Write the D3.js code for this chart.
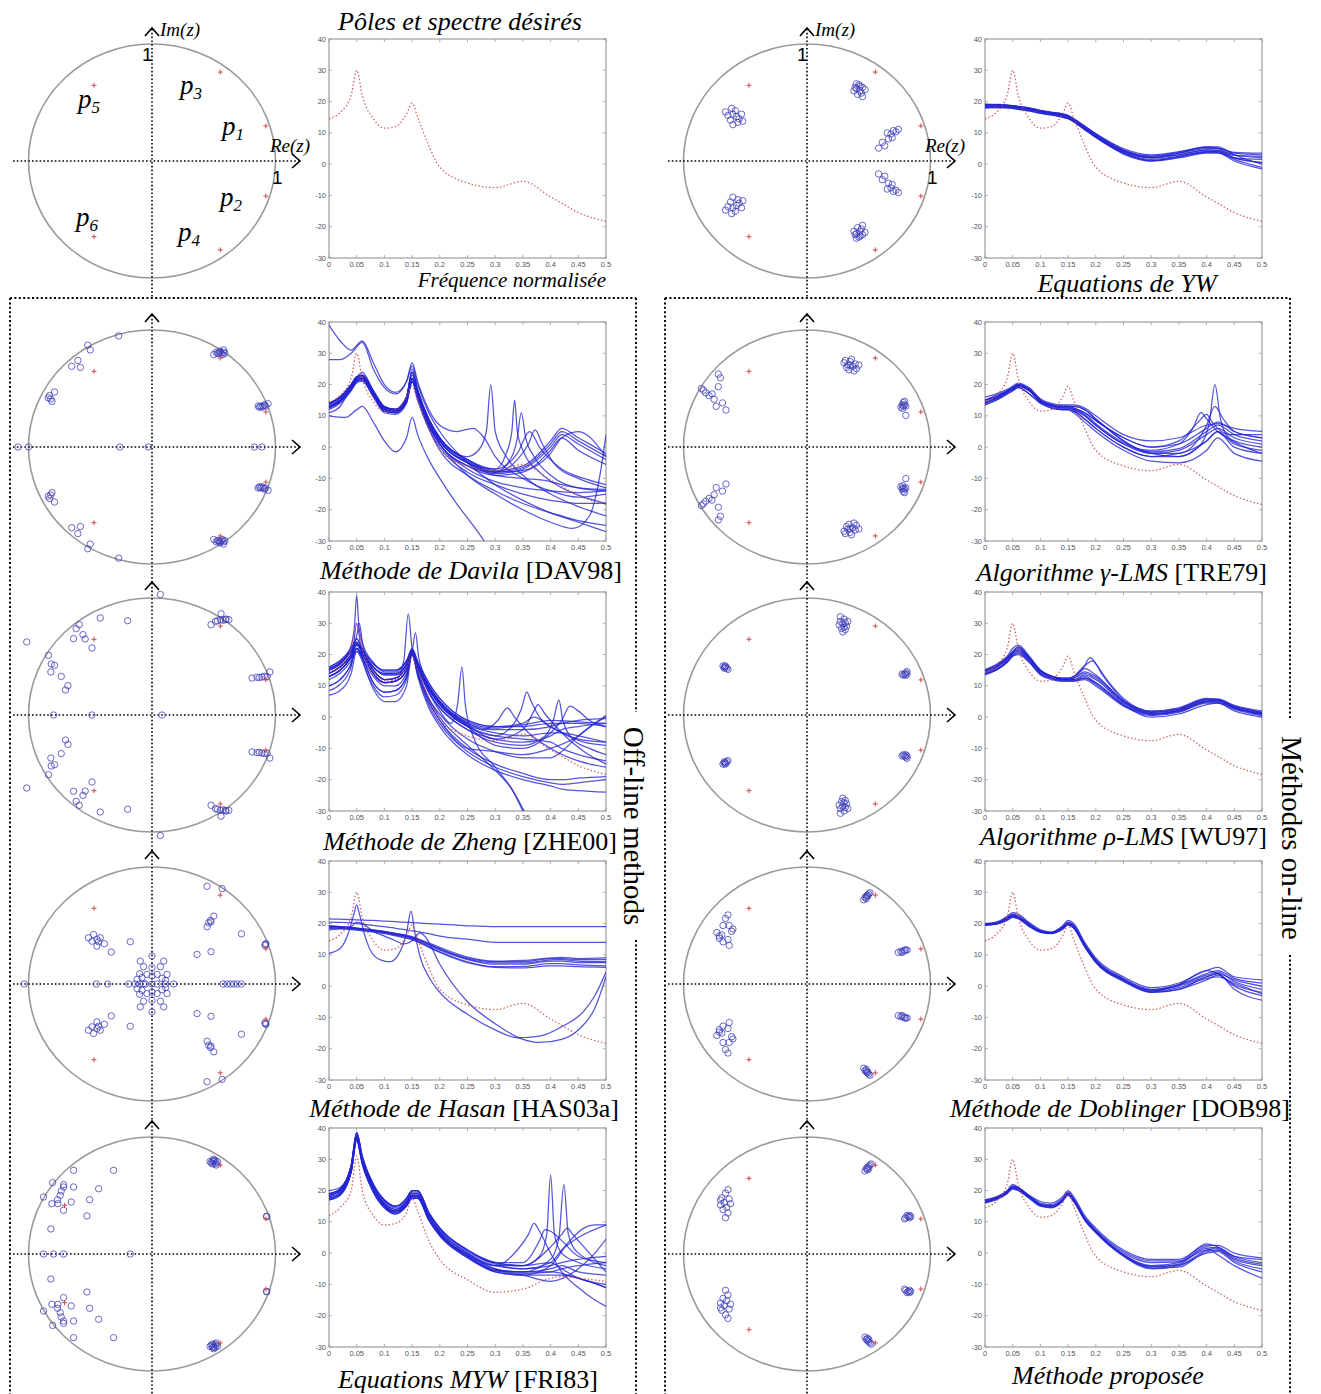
<!DOCTYPE html>
<html>
<head>
<meta charset="utf-8">
<script src="https://cdn.jsdelivr.net/npm/d3@7"></script>
<style>
  body { margin: 0; background: #fff; }
  svg { display: block; }
</style>
</head>
<body>
<svg id="fig" width="1321" height="1394"></svg>
<script>
// ---------------------------------------------------------------
// Data
// ---------------------------------------------------------------

// Frequency grid shared by most spectra (normalised frequency)
const FREQ = [0, 0.02, 0.04, 0.05, 0.06, 0.08, 0.10, 0.12, 0.14, 0.15, 0.16, 0.18, 0.20, 0.25, 0.30, 0.35, 0.40, 0.42, 0.45, 0.50];
const FREQ_TICKS = [0, 0.05, 0.1, 0.15, 0.2, 0.25, 0.3, 0.35, 0.4, 0.45, 0.5];
const DB_TICKS = [40, 30, 20, 10, 0, -10, -20, -30];

// Desired spectra (dB)
const DESIRED = [14.5, 16.5, 22, 30, 22, 14.5, 11.5, 12, 16, 19.5, 15, 6, -1, -6, -7.5, -5.5, -10.5, -12.5, -15.5, -18.3];
const DESIRED_MYW = [12, 14.5, 20, 31, 20, 12, 9, 9.5, 13, 17.5, 13.5, 4, -2, -8.5, -12.5, -11.5, -8, -7.5, -8, -9];

// Desired poles (upper half plane; conjugates drawn too)
const DESIRED_POLES = [[0.922, 0.300], [0.553, 0.760], [-0.470, 0.647]];
const DESIRED_POLES_MYW = [[0.922, 0.300], [0.553, 0.760], [-0.708, 0.416]];
const POLE_NAMES = [["1", "2"], ["3", "4"], ["5", "6"]];

// --- Equations de YW ---
const YW1 = [18.5, 18.5, 18.5, 18.3, 18, 17.5, 16.8, 16.2, 15.5, 15, 14, 11.5, 9, 4, 2, 3, 4.5, 4.5, 3, 2];
const YW2 = [19, 19, 18.8, 18.6, 18.3, 17.8, 17, 16.5, 16, 15.5, 14.5, 12, 9.5, 4.5, 2.5, 3.5, 5, 5, 3.5, 3];
const YW3 = [18, 18, 18, 17.8, 17.5, 17, 16.3, 15.8, 15, 14.5, 13.5, 11, 8.5, 3.5, 1, 2, 3.5, 3.5, 2, 1.5];
const YW4 = [18.5, 18.6, 18.4, 18.2, 18, 17.4, 16.6, 16, 15.3, 14.8, 13.8, 11.3, 8.8, 3.8, 1.5, 2.5, 4, 4, 1.5, -1];
const YW5 = [19, 19, 18.8, 18.6, 18.4, 17.8, 17, 16.4, 15.8, 15.2, 14.2, 11.8, 9.3, 4.3, 2, 3.5, 5.5, 5.5, 3, 0];
const YW6 = [18, 18.2, 18, 17.8, 17.5, 17, 16.2, 15.7, 15, 14.5, 13.6, 11, 8.7, 3.2, 1, 2.5, 4, 4, 2, 0.5];
const YW7 = [18.8, 18.8, 18.6, 18.4, 18.2, 17.6, 16.9, 16.3, 15.6, 15.1, 14.1, 11.6, 9.1, 4.2, 2.2, 3, 4.6, 4.3, 2.8, 2.5];
const YW8 = [19.2, 19.1, 18.9, 18.7, 18.5, 18, 17.2, 16.6, 16.1, 15.6, 14.6, 12.2, 9.8, 5, 3, 4, 5.5, 5.2, 3.8, 3.5];
const YW9 = [18.2, 18.3, 18.2, 18, 17.8, 17.2, 16.4, 15.9, 15.2, 14.7, 13.7, 11.2, 8.6, 3.6, 1.2, 2.2, 3.8, 3.7, 1, -1.5];
const YW10 = [19.1, 19, 18.9, 18.7, 18.4, 17.9, 17.1, 16.5, 15.9, 15.4, 14.4, 12, 9.6, 4.6, 2.6, 3.8, 5.3, 5, 2, 0.5];
const SPEC_YW = [YW1, YW2, YW3, YW4, YW5, YW6, YW7, YW8, YW9, YW10];
const POLES_YW = [
  [0.40, 0.62], [0.43, 0.60], [0.45, 0.63], [0.42, 0.65], [0.38, 0.60], [0.44, 0.58], [0.41, 0.57], [0.47, 0.61], [0.43, 0.64], [0.40, 0.66], [0.45, 0.55], [0.39, 0.63],
  [0.70, 0.26], [0.68, 0.23], [0.72, 0.25], [0.66, 0.19], [0.63, 0.13], [0.58, 0.11], [0.61, 0.16], [0.69, 0.20], [0.74, 0.27], [0.65, 0.24],
  [-0.60, 0.40], [-0.57, 0.38], [-0.55, 0.36], [-0.62, 0.35], [-0.58, 0.43], [-0.53, 0.40], [-0.64, 0.39], [-0.56, 0.33], [-0.60, 0.31], [-0.52, 0.34], [-0.61, 0.45], [-0.66, 0.42]
];

// --- Méthode de Davila ---
const DV1 = [13, 15, 19, 21.5, 22, 17, 12, 11.5, 15, 22, 17, 8, 2, -5, -8.5, -7, 0, 4, 1, -4];
const DV2 = [14, 16, 20, 22.5, 23, 18, 13, 12, 16, 24, 18, 9, 3, -4, -8, -6.5, 1, 5, 2, -3];
const DV3 = [12.5, 14.5, 18.5, 21, 21.5, 16.5, 11.5, 11, 14.5, 21, 16, 7, 1, -6, -9, -8, -1, 3, -1, -5.5];
const DV4 = [13.5, 15.5, 19.5, 22, 22.5, 17.5, 12.5, 11.8, 15.5, 23, 17.5, 8.5, 2.5, -4.5, -8, -7.5, -2, 3, 5, -3];
const DV5 = [13, 15, 19, 21.5, 22, 17, 12, 11.5, 15, 22, 17, 8, 2, -5, -9, -10, -11, -12, -13, -13.5];
const DV6 = [12, 14, 18, 20.5, 21, 16, 11, 10.5, 14, 21, 15, 6, 0, -8, -12, -15, -17, -17.5, -18, -18];
const DV7 = [14, 16, 20, 22, 22.5, 17.5, 12.5, 12, 15.5, 22, 16, 6, -1, -9, -14, -18, -21, -22, -23.5, -25];
const DV8 = [13.8, 15.8, 19.8, 22.2, 22.8, 17.8, 12.8, 12.2, 16, 25, 18.5, 9, 3, -4, -7.5, -6, 2, 6, 3, -2];
const SPEC_DAVILA = [
  DV1, DV2, DV3, DV4, DV5, DV6, DV7, DV8,
  [[0, 39], [0.02, 34], [0.04, 31], [0.06, 34], [0.08, 27], [0.1, 20], [0.12, 17.5], [0.14, 21], [0.15, 26], [0.16, 20], [0.18, 11], [0.2, 5], [0.25, -5], [0.3, -12], [0.35, -17], [0.4, -21], [0.45, -24], [0.5, -27]],
  [[0, 28], [0.02, 28], [0.04, 30], [0.06, 33.5], [0.08, 25], [0.1, 19], [0.12, 17], [0.14, 21], [0.15, 27], [0.16, 21], [0.18, 12], [0.2, 7], [0.23, 5], [0.26, 6], [0.28, 3], [0.3, -3], [0.35, -10], [0.4, -14], [0.45, -16], [0.5, -15]],
  [[0, 10], [0.03, 9.5], [0.05, 12], [0.06, 13], [0.08, 8], [0.1, 2], [0.12, -1.5], [0.14, 3], [0.15, 9.5], [0.16, 4], [0.18, -4], [0.2, -10], [0.23, -18], [0.26, -25], [0.28, -30], [0.29, -33]],
  [[0, 11], [0.02, 13], [0.04, 19], [0.06, 24], [0.08, 18], [0.1, 12.5], [0.12, 12], [0.14, 16], [0.15, 22], [0.16, 16], [0.18, 7], [0.2, 1], [0.25, -7], [0.3, -11], [0.35, -13], [0.4, -14], [0.45, -14.5], [0.5, -14]],
  { on: DV2, then: [[0.25, -3], [0.27, -1], [0.284, 5], [0.292, 20], [0.3, 5], [0.32, -3], [0.35, -9], [0.4, -15], [0.45, -19], [0.5, -22]] },
  { on: DV1, then: [[0.3, -7], [0.32, -2], [0.33, 5], [0.335, 15], [0.34, 5], [0.35, -1], [0.38, -8], [0.42, -13], [0.46, -16], [0.5, -18]] },
  { on: DV3, then: [[0.3, -8], [0.33, -3], [0.34, 3], [0.347, 11], [0.355, 3], [0.37, -3], [0.4, -9], [0.45, -13], [0.5, -14]] },
  { on: DV1, then: [[0.3, -8], [0.34, -4], [0.36, 1], [0.372, 5.5], [0.385, 1], [0.41, -6], [0.45, -10], [0.5, -13]] },
  { on: DV3, then: [[0.25, -9], [0.3, -15], [0.35, -20], [0.4, -24], [0.44, -26], [0.47, -22], [0.49, -8], [0.5, 4]] },
  { on: DV2, then: [[0.3, -7], [0.34, -2], [0.362, 5], [0.38, 0], [0.42, -7], [0.46, -10], [0.5, -12]] }
];
const POLES_DAVILA = [
  [0.52, 0.81], [0.54, 0.80], [0.56, 0.80], [0.58, 0.81], [0.55, 0.81], [0.57, 0.79], [0.53, 0.80], [0.59, 0.80], [0.55, 0.82], [0.58, 0.83], [0.50, 0.79],
  [0.86, 0.35], [0.88, 0.35], [0.90, 0.35], [0.92, 0.35], [0.89, 0.34], [0.91, 0.36], [0.94, 0.37], [0.87, 0.34],
  [-0.83, 0.44], [-0.81, 0.39], [-0.84, 0.42], [-0.79, 0.47], [-0.82, 0.41],
  [-0.65, 0.69], [-0.60, 0.74], [-0.58, 0.68], [-0.50, 0.83], [-0.52, 0.87], [-0.27, 0.95],
  [-1.085, 0], [-1.0, 0], [-0.26, 0], [-0.03, 0], [0.83, 0], [0.89, 0]
];

// --- Méthode de Zheng ---
const ZB1 = [15, 17, 21, 24, 21, 16, 14, 14, 17, 21, 17, 10, 5, -2, -4, -4, -3, -2, -1, -0.5];
const ZB2 = [13, 15, 19, 22, 20, 14, 11, 11.5, 15, 20.5, 16, 8, 3, -4, -7, -8, -6, -4, -3, -2];
const ZB3 = [16, 18, 22, 25, 22, 17, 15, 15, 18, 22, 18, 11, 6, -1, -3, -3, -2, -2, -2, -3];
const ZB4 = [10, 12, 17, 22, 19, 11, 8, 8.5, 13, 20, 14, 5, -1, -10, -15, -18, -20, -20, -19.5, -19];
const ZB5 = [7, 8.5, 14, 21, 18, 9, 5, 5, 10, 20, 13, 3, -3, -12, -17, -20, -22, -23, -23.5, -24];
const ZB6 = [14, 16, 20, 23, 21, 15, 12, 12.5, 16, 21, 16.5, 9, 4, -3, -6, -7, -8, -10, -12, -14];
const ZB7 = [12, 14, 18, 21, 19, 13, 10, 10, 14, 20, 15, 6, 1, -7, -11, -13, -13, -11, -6, 0.5];
const ZB8 = [15.5, 17.5, 21, 23.5, 21, 16, 13.5, 13.5, 17, 21.5, 17, 9.5, 4.5, -2.5, -5, -6, -5, -5, -6, -8];
const ZB9 = [8.5, 10.5, 16, 30, 19, 10, 6.5, 7, 12, 22, 14, 4, -2, -11, -16, -19, -21, -21.5, -21, -20];
const SPEC_ZHENG = [
  ZB1, ZB2, ZB3, ZB4, ZB5, ZB6, ZB7, ZB8, ZB9,
  [[0, 15], [0.02, 17], [0.04, 23], [0.046, 29], [0.05, 39], [0.054, 29], [0.06, 24], [0.08, 17.5], [0.1, 14.5], [0.12, 14.5], [0.14, 18], [0.15, 21.5], [0.16, 17.5], [0.18, 10], [0.2, 5], [0.25, -1.5], [0.3, -3.5], [0.35, -2.5], [0.4, -1], [0.45, -1.5], [0.5, -2]],
  [[0, 13], [0.02, 15], [0.04, 20], [0.05, 26], [0.055, 30], [0.06, 24], [0.08, 14], [0.1, 11], [0.12, 11.5], [0.135, 18], [0.143, 33], [0.15, 22], [0.16, 15], [0.18, 6], [0.2, 0], [0.25, -9], [0.3, -17], [0.33, -23], [0.355, -31]],
  { on: ZB3, then: [[0.15, 21], [0.156, 27], [0.162, 19], [0.18, 11], [0.2, 6], [0.25, -1], [0.3, -3], [0.35, -2], [0.37, 0], [0.4, -3], [0.45, -7], [0.5, -8]] },
  { on: ZB2, then: [[0.2, 2], [0.22, -2], [0.232, 4], [0.24, 16], [0.246, 4], [0.26, -6], [0.3, -16], [0.33, -23], [0.35, -30]] },
  { on: ZB6, then: [[0.3, -6], [0.33, -3], [0.348, 3], [0.357, 8], [0.365, 5], [0.38, 0], [0.42, -5], [0.46, -8], [0.5, -9]] },
  { on: ZB8, then: [[0.3, -7], [0.35, -4], [0.37, 2], [0.377, 4], [0.39, 1], [0.42, -5], [0.46, -11], [0.5, -15]] },
  { on: ZB2, then: [[0.3, -8], [0.35, -9], [0.39, -6], [0.405, -1], [0.415, 5.5], [0.422, -1], [0.44, -7], [0.47, -10], [0.5, -12]] },
  { on: ZB6, then: [[0.3, -9], [0.35, -10], [0.4, -5], [0.42, -1], [0.435, 3.5], [0.45, 2], [0.47, -1], [0.5, -3]] },
  { on: ZB1, then: [[0.25, -2], [0.28, -4], [0.305, -1], [0.322, 3], [0.335, 0], [0.36, -5], [0.4, -10], [0.45, -14], [0.5, -16]] },
  { on: ZB4, then: [[0.3, -11], [0.35, -12], [0.4, -10], [0.45, -6], [0.48, -2], [0.5, 0]] }
];
const POLES_ZHENG = [
  [0.478, 0.772], [0.514, 0.80], [0.554, 0.815], [0.595, 0.815], [0.622, 0.815], [0.559, 0.865], [0.53, 0.805], [0.575, 0.81], [0.60, 0.82],
  [0.81, 0.316], [0.85, 0.322], [0.89, 0.325], [0.932, 0.328], [0.954, 0.368], [0.87, 0.32], [0.91, 0.33],
  [0.068, 1.03],
  [-0.589, 0.772], [-0.614, 0.738], [-0.559, 0.687], [-0.635, 0.652], [-0.541, 0.65], [-0.486, 0.573], [-0.419, 0.829], [-0.197, 0.806],
  [-1.014, 0.624], [-0.838, 0.51], [-0.816, 0.436], [-0.789, 0.425], [-0.819, 0.368], [-0.735, 0.33], [-0.681, 0.251], [-0.70, 0.214],
  [-0.797, 0], [-0.486, 0], [0.081, 0]
];

// --- Méthode de Hasan ---
const HF1 = [21.5, 21.4, 21.3, 21.2, 21.1, 21, 20.8, 20.6, 20.4, 20.3, 20.2, 20, 19.8, 19.3, 19, 19, 19, 19, 19, 19];
const HF2 = [20.5, 20.4, 20.2, 20, 19.8, 19.4, 19, 18.5, 18, 17.7, 17.4, 16.8, 16, 15, 14, 14, 14, 14, 14, 14];
const HB1 = [19, 18.8, 18.5, 18.3, 18.1, 17.7, 17.2, 16.5, 15.8, 15.3, 14.6, 13, 11.5, 8.5, 7, 7, 8, 8, 7.5, 7.5];
const HB2 = [19.3, 19, 18.7, 18.5, 18.3, 17.9, 17.4, 16.8, 16.1, 15.6, 15, 13.5, 12, 9, 7.8, 7.8, 8.8, 8.8, 8.5, 8.5];
const HB3 = [18.8, 18.6, 18.3, 18.1, 17.9, 17.5, 17, 16.3, 15.5, 15, 14.3, 12.6, 11, 7.8, 6.2, 6.3, 7.2, 7.2, 6.8, 6.5];
const HB4 = [19.1, 18.9, 18.6, 18.4, 18.2, 17.8, 17.3, 16.6, 16, 15.5, 14.8, 13.3, 11.8, 8.7, 7.4, 7.4, 8.4, 8.5, 8, 7.8];
const HB5 = [18.5, 18.3, 18.1, 17.9, 17.7, 17.3, 16.8, 16.1, 15.3, 14.8, 14.1, 12.4, 10.8, 7.5, 6, 5.8, 6.5, 6.5, 6.2, 6];
const HB6 = [19.2, 19, 18.8, 18.6, 18.4, 18, 17.5, 16.9, 16.3, 15.8, 15.2, 13.8, 12.4, 9.3, 8, 8.2, 9, 9.2, 8.8, 9];
const SPEC_HASAN = [
  HF1, HF2, HB1, HB2, HB3, HB4, HB5, HB6,
  [[0, 10.5], [0.02, 12], [0.035, 17], [0.045, 23], [0.05, 26], [0.055, 23], [0.065, 16], [0.08, 10], [0.1, 8], [0.11, 7.8], [0.125, 10], [0.14, 17], [0.148, 24], [0.155, 17], [0.165, 9], [0.18, 3], [0.2, -2], [0.25, -9], [0.3, -14], [0.34, -16.5], [0.38, -16], [0.42, -13], [0.46, -8], [0.48, -3], [0.5, 4.5]],
  [[0, 18], [0.04, 19], [0.05, 20.5], [0.06, 20], [0.08, 17.5], [0.1, 16], [0.12, 14.5], [0.135, 13.5], [0.15, 14.5], [0.165, 17], [0.175, 15.5], [0.2, 7], [0.25, -5], [0.3, -12], [0.35, -17], [0.38, -18], [0.42, -17], [0.45, -14], [0.48, -7], [0.5, 3]]
];
const POLES_HASAN = [
  [0, 0.239], [-0.068, 0.148], [0, 0.139], [0.068, 0.148], [0.095, 0.196], [-0.095, 0.196], [-0.10, 0.088], [-0.041, 0.082], [0.041, 0.082], [0.122, 0.082],
  [0, 0.068], [-0.081, 0.054], [0.081, 0.048], [-0.12, 0.04], [0.11, 0.03],
  [-0.189, 0], [-0.135, 0], [-0.10, 0], [-0.054, 0], [0, 0], [0.041, 0], [0.108, 0], [0.176, 0], [-0.07, 0],
  [-0.514, 0.395], [-0.473, 0.423], [-0.446, 0.381], [-0.432, 0.361], [-0.419, 0.395], [-0.446, 0.324], [-0.486, 0.366], [-0.386, 0.344], [-0.33, 0.273], [-0.176, 0.361],
  [-1.035, 0], [-0.451, 0], [-0.359, 0],
  [0.446, 0.835], [0.568, 0.815], [0.50, 0.58], [0.473, 0.543], [0.446, 0.489], [0.459, 0.523], [0.478, 0.531], [0.365, 0.253], [0.478, 0.276], [0.724, 0.429],
  [0.919, 0.338], [0.915, 0.33], [0.922, 0.345],
  [0.576, 0], [0.608, 0], [0.635, 0], [0.662, 0], [0.689, 0], [0.722, 0]
];

// --- Equations MYW ---
const M1 = [18, 19.5, 27, 37.5, 30, 21, 16, 14, 16.5, 19, 19, 12, 7, 0, -4, -5, -4, -3, -2, -1];
const M2 = [19, 20.5, 28, 38.5, 31, 22, 17, 15, 17.5, 20, 20, 13, 8, 1, -3, -4, -3, -5, -8, -10];
const M3 = [17.5, 19, 26, 36.5, 29, 20, 15, 13, 15.5, 18, 18, 11, 6, -1, -5.5, -6, -5, -4, -6, -7];
const M4 = [20, 21, 28, 38, 30.5, 21.5, 16.5, 14.5, 17, 19.5, 19.5, 12.5, 7.5, 0.5, -3.5, -5, -3, 1, 5, 9];
const M5 = [18.5, 20, 27.5, 37, 30, 21, 15.5, 13.5, 16, 18.5, 18.5, 12, 6.5, -0.5, -5, -6.5, -6, -5, -4, -3];
const M6 = [17, 18.5, 26, 36, 28.5, 19.5, 14.5, 12.5, 15, 17.5, 17.5, 10.5, 5.5, -1.5, -6, -7, -7, -7, -8, -11];
const SPEC_MYW = [
  M1, M2, M3, M4, M5, M6,
  { on: M1, then: [[0.35, -4], [0.38, -1], [0.393, 6], [0.40, 25], [0.407, 6], [0.42, 0], [0.45, -3], [0.5, -5]] },
  { on: M3, then: [[0.35, -6], [0.4, -2], [0.415, 5], [0.424, 22], [0.432, 6], [0.45, 0], [0.5, -4]] },
  { on: M5, then: [[0.3, -4], [0.34, 1], [0.36, 6], [0.37, 9.5], [0.38, 7], [0.4, 0], [0.42, -6], [0.45, -11], [0.48, -15], [0.5, -17]] },
  { on: M2, then: [[0.35, -3], [0.38, 4], [0.39, 7.5], [0.4, 7], [0.42, 4], [0.45, -1], [0.5, -3]] },
  { on: M6, then: [[0.35, -7], [0.4, -4], [0.43, 3], [0.46, 8], [0.48, 9], [0.5, 9]] },
  { on: M3, then: [[0.35, -7], [0.4, -9], [0.45, -5], [0.48, 0], [0.5, 4.5]] },
  { on: M2, then: [[0.35, -4], [0.4, 2], [0.42, 6], [0.43, 8], [0.44, 6], [0.46, 2], [0.5, -6]] },
  { on: M5, then: [[0.35, -6], [0.4, -6], [0.45, -8], [0.5, -11]] }
];
const POLES_MYW = [
  [0.47, 0.79], [0.49, 0.80], [0.50, 0.79], [0.51, 0.80], [0.53, 0.79], [0.49, 0.77], [0.51, 0.77], [0.52, 0.78], [0.48, 0.78], [0.50, 0.81], [0.52, 0.76],
  [0.927, 0.322], [0.93, 0.32],
  [-0.635, 0.715], [-0.311, 0.715], [-0.805, 0.61], [-0.716, 0.593], [-0.716, 0.573], [-0.635, 0.573], [-0.432, 0.558], [-0.735, 0.538], [-0.743, 0.501],
  [-0.765, 0.464], [-0.878, 0.487], [-0.811, 0.43], [-0.762, 0.43], [-0.654, 0.444], [-0.505, 0.464], [-0.716, 0.373], [-0.527, 0.325], [-0.819, 0.214],
  [-0.878, 0], [-0.797, 0], [-0.716, 0], [-0.176, 0]
];

// --- Algorithme gamma-LMS ---
const G1 = [14, 15.5, 17.5, 18.5, 19.5, 18, 14.5, 13, 12.5, 12.5, 12, 10, 7, 1, -2, -1, 4, 6, 3, 1];
const G2 = [15, 16.5, 18, 19, 20, 18.5, 15, 13.5, 13, 13, 12.5, 11, 8.5, 3, 0, 1, 6, 8, 5, 3];
const G3 = [13.5, 15, 17, 18, 19, 17, 14, 12.5, 12, 12, 11.5, 9, 6, 0, -3, -2, 2, 5, 0, -2];
const G4 = [16, 17, 18.5, 19.5, 20.5, 19, 15.5, 14, 13.5, 13.5, 13.5, 12.5, 10, 4, 2, 3, 7, 7.5, 6, 5];
const G5 = [14.5, 15.5, 17.5, 18.5, 19.5, 18, 14.5, 13, 12, 12, 11, 8, 5, -1, -4.5, -5, -1, 3, -2, -4.5];
const G6 = [15, 16, 18, 19, 20, 18.5, 15, 13.5, 13, 13, 13, 12, 9, 2, -2, -3, 2, 5, 1, -1];
const G7 = [14.2, 15.8, 17.8, 18.8, 19.8, 18.2, 14.8, 13.2, 12.6, 12.6, 12.3, 10.5, 7.5, 1.5, -1.5, -0.5, 5, 7, 4, 2];
const SPEC_GLMS = [
  G1, G2, G3, G4, G5, G6, G7,
  { on: G3, then: [[0.35, -3], [0.39, 1], [0.405, 8], [0.415, 20], [0.425, 9], [0.44, 3], [0.47, 0], [0.5, -2]] },
  { on: G1, then: [[0.3, -1], [0.35, 1], [0.375, 6], [0.39, 11], [0.4, 9], [0.42, 5], [0.45, 2], [0.5, 0]] },
  { on: G6, then: [[0.35, -2], [0.4, 7], [0.415, 13], [0.43, 9], [0.45, 5], [0.5, 3]] },
  { on: G2, then: [[0.35, 2], [0.385, 8], [0.4, 10.5], [0.41, 8], [0.44, 4], [0.5, 4]] }
];
const POLES_GLMS = [
  [0.30, 0.72], [0.33, 0.70], [0.35, 0.73], [0.37, 0.69], [0.39, 0.71], [0.34, 0.66], [0.32, 0.68], [0.36, 0.75], [0.40, 0.67], [0.35, 0.70], [0.31, 0.74], [0.38, 0.65], [0.42, 0.70],
  [0.77, 0.36], [0.78, 0.35], [0.79, 0.36], [0.80, 0.35], [0.76, 0.34], [0.78, 0.38], [0.80, 0.27], [0.775, 0.33], [0.79, 0.39],
  [-0.855, 0.5], [-0.82, 0.463], [-0.793, 0.439], [-0.769, 0.454], [-0.752, 0.408], [-0.718, 0.515], [-0.701, 0.592], [-0.718, 0.623], [-0.735, 0.347], [-0.656, 0.316], [-0.684, 0.377], [-0.838, 0.485]
];

// --- Algorithme rho-LMS ---
const R1 = [14, 15.5, 18, 20, 21, 18, 14, 12.5, 12, 12, 12, 13, 11, 4, 1, 2, 5, 5, 3, 1];
const R2 = [13.5, 15, 17.5, 19.5, 20.5, 17.5, 13.5, 12, 11.5, 11.5, 11.5, 12, 10, 3.5, 0.5, 1.5, 4.5, 4.5, 2.5, 0.5];
const R3 = [15, 16.5, 19, 21, 22.5, 19, 15, 13, 12.5, 12.5, 13, 15.5, 13.5, 5, 1.5, 2.5, 5.5, 5.5, 3.5, 1.5];
const R4 = [14.5, 16, 18.5, 20.5, 21.5, 18.5, 14.5, 13, 12, 12, 12, 13.5, 12, 4.5, 1, 2, 5, 5.5, 3, 1.2];
const R5 = [14, 15, 17.5, 19.5, 20, 17.5, 14, 12.5, 11.5, 11.5, 11.5, 12.5, 11, 4, 0, 1, 4, 4.5, 2, 0];
const R6 = [14.8, 16.2, 18.8, 20.8, 22, 18.8, 14.8, 13.2, 12.3, 12.3, 12.5, 14, 12.5, 4.8, 1.2, 2.2, 5.2, 5.2, 3.2, 1.2];
const R7 = [13.8, 15.2, 17.8, 19.8, 20.8, 17.8, 13.8, 12.3, 11.8, 11.8, 11.8, 12.5, 10.5, 3.8, 0.8, 1.8, 4.8, 4.8, 2.8, 0.8];
const R8 = [15.2, 16.8, 19.5, 22, 23, 19.5, 15, 13, 12.2, 12.2, 12.5, 14.5, 13, 5.2, 1.8, 2.8, 5.8, 5.8, 3.8, 2];
const SPEC_RLMS = [
  R1, R2, R3, R4, R5, R6, R7, R8,
  { on: R3, then: [[0.16, 13], [0.175, 15], [0.19, 19], [0.2, 17], [0.22, 12], [0.25, 6], [0.3, 2], [0.35, 3], [0.4, 6], [0.42, 5.5], [0.45, 3.5], [0.5, 1.5]] },
  { on: R4, then: [[0.16, 13], [0.18, 16.5], [0.195, 18], [0.21, 14], [0.25, 5.5], [0.3, 1.5], [0.35, 2.5], [0.4, 5.5], [0.42, 5.5], [0.45, 3], [0.5, 1]] }
];
const POLES_RLMS = [
  [0.27, 0.80], [0.29, 0.78], [0.31, 0.79], [0.30, 0.75], [0.28, 0.74], [0.32, 0.76], [0.26, 0.77], [0.30, 0.82], [0.33, 0.80], [0.29, 0.71], [0.31, 0.73], [0.27, 0.84],
  [0.79, 0.35], [0.80, 0.36], [0.81, 0.35], [0.78, 0.34], [0.80, 0.34], [0.77, 0.35], [0.81, 0.37],
  [-0.67, 0.41], [-0.66, 0.41], [-0.68, 0.42], [-0.65, 0.40], [-0.64, 0.39], [-0.67, 0.40], [-0.66, 0.42]
];

// --- Méthode de Doblinger ---
const D1 = [19.5, 20, 21.5, 22.5, 22, 19.5, 17.5, 17, 18.5, 20, 19, 13, 8, 2, -1.5, 0, 3, 4, 2, 0];
const D2 = [20, 20.5, 22, 23, 22.5, 20, 17.8, 17.2, 19, 20.5, 19.5, 13.5, 8.5, 2.5, -1, 0.5, 4, 5, 2.5, 1];
const D3 = [19.5, 19.8, 21, 22, 21.5, 19, 17.2, 16.8, 18.2, 19.5, 18.5, 12.5, 7.5, 1.5, -2, -1, 2, 3.5, 0.5, -2];
const D4 = [20, 20.3, 22.3, 23.5, 23, 20.3, 18, 17.3, 19.3, 21, 20, 14, 9, 3, -0.5, 1, 5, 6, 3, 2];
const D5 = [19.7, 20, 21.6, 22.6, 22, 19.6, 17.5, 17, 18.6, 20, 19, 13, 8, 2, -2, -1, 3, 4, -1, -4.5];
const D6 = [19.5, 19.8, 21.3, 22.3, 21.8, 19.3, 17.3, 16.9, 18.3, 19.8, 18.8, 12.8, 7.8, 1.8, -1.5, 0.5, 5, 4, 0, -3];
const D7 = [19.8, 20.2, 21.8, 22.8, 22.3, 19.8, 17.6, 17.1, 18.8, 20.3, 19.3, 13.3, 8.3, 2.3, -1.2, 0.3, 3.5, 4.5, 1.5, -1];
const D8 = [19.6, 19.9, 21.2, 22.2, 21.7, 19.2, 17.4, 17, 18.4, 19.7, 18.7, 12.7, 7.7, 1.7, -1.8, -0.5, 2.5, 3, 1, -2.5];
const SPEC_DOB = [D1, D2, D3, D4, D5, D6, D7, D8];
const POLES_DOB = [
  [0.47, 0.74], [0.48, 0.75], [0.49, 0.76], [0.50, 0.77], [0.48, 0.73], [0.46, 0.72], [0.49, 0.75], [0.51, 0.78],
  [0.74, 0.27], [0.76, 0.28], [0.78, 0.28], [0.80, 0.29], [0.77, 0.27], [0.79, 0.29], [0.81, 0.29],
  [-0.73, 0.44], [-0.71, 0.41], [-0.68, 0.50], [-0.66, 0.56], [-0.64, 0.59], [-0.63, 0.50], [-0.61, 0.45], [-0.64, 0.38], [-0.68, 0.36], [-0.71, 0.39], [-0.63, 0.33], [-0.69, 0.42], [-0.60, 0.47]
];

// --- Méthode proposée ---
const P1 = [16.5, 17.5, 19.5, 21, 20.5, 18, 15.5, 15, 17, 19, 17, 11, 7, -0.5, -4, -3, 1, 1, -2, -4];
const P2 = [17, 18, 20, 22, 21, 18.5, 16.5, 16, 18, 20, 18, 12, 8, 1, -2, -2, 2.5, 2.5, 0, -1.5];
const P3 = [16, 17, 19, 20.5, 20, 17.5, 15, 14.5, 16.5, 18.5, 16.5, 10.5, 6.5, -1, -5, -4, 0, 0.5, -3, -6];
const P4 = [16.5, 17.5, 19.5, 21.2, 20.7, 18, 15.3, 14.7, 16.8, 18.8, 16.8, 10.8, 6.8, -0.8, -4.5, -3.5, 1.5, -0.5, -4, -8];
const P5 = [17, 17.8, 19.8, 21.5, 21, 18.3, 16, 15.5, 17.5, 19.5, 17.5, 11.5, 7.5, 0.5, -2.5, -2.5, 3, 2, -1, -3];
const P6 = [16.2, 17.2, 19.2, 20.8, 20.2, 17.7, 15.2, 14.8, 16.7, 18.7, 16.7, 10.7, 6.7, -0.7, -4.8, -4.5, 0.5, 1, -2.5, -5];
const P7 = [16.8, 17.6, 19.6, 21.3, 20.8, 18.1, 15.7, 15.2, 17.2, 19.2, 17.2, 11.2, 7.2, 0, -3, -2.8, 2, 1.5, -1.5, -3.5];
const P8 = [16.4, 17.3, 19.3, 20.9, 20.4, 17.8, 15.4, 14.9, 16.9, 18.9, 16.9, 10.9, 6.9, -0.6, -4.2, -3.8, 1, 1.8, -1, -2];
const SPEC_PROP = [P1, P2, P3, P4, P5, P6, P7, P8];
const POLES_PROP = [
  [0.48, 0.73], [0.49, 0.74], [0.50, 0.75], [0.51, 0.76], [0.49, 0.72], [0.50, 0.73], [0.52, 0.77], [0.47, 0.71],
  [0.80, 0.31], [0.82, 0.32], [0.83, 0.33], [0.81, 0.33], [0.84, 0.32], [0.79, 0.30], [0.83, 0.31],
  [-0.69, 0.48], [-0.66, 0.52], [-0.64, 0.55], [-0.67, 0.44], [-0.70, 0.42], [-0.65, 0.40], [-0.62, 0.43], [-0.68, 0.38], [-0.64, 0.35], [-0.70, 0.46], [-0.63, 0.47], [-0.66, 0.31]
];

// ---------------------------------------------------------------
// Layout
// ---------------------------------------------------------------
const SERIF = "'Liberation Serif', 'Times New Roman', Times, serif";
const SANS = "'Liberation Sans', Arial, Helvetica, sans-serif";
const ROW_CY = [161, 447, 715, 984, 1254];
const BOX_TOP = [39, 322, 592, 861, 1128];
const COLS = [
  { cx: 152, sx: 329, ax0: 13 },
  { cx: 807, sx: 985, ax0: 668 }
];
const RX = 123.5, RY = 117, BW = 277, BH = 219;
const BLUE = "#2424d2", RED = "#cc4a4a";

const PANELS = [
  { row: 0, col: 0, poles: [], targets: DESIRED_POLES, curves: [], ref: DESIRED },
  { row: 0, col: 1, poles: POLES_YW, targets: DESIRED_POLES, curves: SPEC_YW, ref: DESIRED },
  { row: 1, col: 0, poles: POLES_DAVILA, targets: DESIRED_POLES, curves: SPEC_DAVILA, ref: DESIRED },
  { row: 1, col: 1, poles: POLES_GLMS, targets: DESIRED_POLES, curves: SPEC_GLMS, ref: DESIRED },
  { row: 2, col: 0, poles: POLES_ZHENG, targets: DESIRED_POLES, curves: SPEC_ZHENG, ref: DESIRED },
  { row: 2, col: 1, poles: POLES_RLMS, targets: DESIRED_POLES, curves: SPEC_RLMS, ref: DESIRED },
  { row: 3, col: 0, poles: POLES_HASAN, targets: DESIRED_POLES, curves: SPEC_HASAN, ref: DESIRED },
  { row: 3, col: 1, poles: POLES_DOB, targets: DESIRED_POLES, curves: SPEC_DOB, ref: DESIRED },
  { row: 4, col: 0, poles: POLES_MYW, targets: DESIRED_POLES_MYW, curves: SPEC_MYW, ref: DESIRED_MYW },
  { row: 4, col: 1, poles: POLES_PROP, targets: DESIRED_POLES, curves: SPEC_PROP, ref: DESIRED }
];

const svg = d3.select("#fig");
svg.append("rect").attr("width", 1321).attr("height", 1394).attr("fill", "#fff");

// Turn a curve spec into [freq, dB] points
function curvePoints(spec) {
  if (Array.isArray(spec)) {
    return typeof spec[0] === "number" ? FREQ.map((f, i) => [f, spec[i]]) : spec;
  }
  const start = spec.then[0][0];
  return FREQ.map((f, i) => [f, spec.on[i]]).filter(p => p[0] < start).concat(spec.then);
}

let clipId = 0;
function drawSpectrum(p) {
  const x0 = COLS[p.col].sx, y0 = BOX_TOP[p.row];
  const x = d3.scaleLinear().domain([0, 0.5]).range([x0, x0 + BW]);
  const y = d3.scaleLinear().domain([-30, 40]).range([y0 + BH, y0]);
  const g = svg.append("g");
  const id = "clip" + (clipId++);
  svg.append("clipPath").attr("id", id).append("rect")
    .attr("x", x0).attr("y", y0).attr("width", BW).attr("height", BH);

  // frame
  g.append("rect").attr("x", x0).attr("y", y0).attr("width", BW).attr("height", BH)
    .attr("fill", "#fff").attr("stroke", "#8a8a8a").attr("stroke-width", 1);

  // inward ticks on the four sides
  const tk = g.append("g").attr("stroke", "#9a9a9a").attr("stroke-width", 0.8);
  FREQ_TICKS.forEach(f => {
    tk.append("line").attr("x1", x(f)).attr("x2", x(f)).attr("y1", y0 + BH).attr("y2", y0 + BH - 3);
    tk.append("line").attr("x1", x(f)).attr("x2", x(f)).attr("y1", y0).attr("y2", y0 + 3);
  });
  DB_TICKS.forEach(v => {
    tk.append("line").attr("x1", x0).attr("x2", x0 + 3).attr("y1", y(v)).attr("y2", y(v));
    tk.append("line").attr("x1", x0 + BW).attr("x2", x0 + BW - 3).attr("y1", y(v)).attr("y2", y(v));
  });

  const lab = g.append("g").attr("font-family", SANS).attr("font-size", 7.5).attr("fill", "#555");
  DB_TICKS.forEach(v => {
    lab.append("text").attr("x", x0 - 3).attr("y", y(v) + 2.5).attr("text-anchor", "end").text(v);
  });
  FREQ_TICKS.forEach(f => {
    lab.append("text").attr("x", x(f)).attr("y", y0 + BH + 9).attr("text-anchor", "middle").text(String(f));
  });

  const line = d3.line().x(d => x(d[0])).y(d => y(d[1])).curve(d3.curveMonotoneX);
  const plot = g.append("g").attr("clip-path", `url(#${id})`);
  plot.selectAll("path.est").data(p.curves).join("path")
    .attr("class", "est")
    .attr("d", c => line(curvePoints(c)))
    .attr("fill", "none").attr("stroke", BLUE).attr("stroke-width", 1.25).attr("stroke-opacity", 0.78);
  plot.append("path").attr("d", line(curvePoints(p.ref)))
    .attr("fill", "none").attr("stroke", RED).attr("stroke-width", 1.3)
    .attr("stroke-dasharray", "1.4,2.2").attr("stroke-opacity", 0.9);
}

function arrowUp(g, cx, top) {
  g.append("path").attr("d", `M${cx - 7},${top + 8} L${cx},${top} L${cx + 7},${top + 8}`)
    .attr("fill", "none").attr("stroke", "#000").attr("stroke-width", 1.6);
}
function arrowRight(g, tip, cy) {
  g.append("path").attr("d", `M${tip - 8},${cy - 7} L${tip},${cy} L${tip - 8},${cy + 7}`)
    .attr("fill", "none").attr("stroke", "#000").attr("stroke-width", 1.6);
}

function drawPoles(p) {
  const c = COLS[p.col], cy = ROW_CY[p.row];
  const x = d3.scaleLinear().domain([-1, 1]).range([c.cx - RX, c.cx + RX]);
  const y = d3.scaleLinear().domain([-1, 1]).range([cy + RY, cy - RY]);
  const g = svg.append("g");

  g.append("ellipse").attr("cx", x(0)).attr("cy", y(0)).attr("rx", RX).attr("ry", RY)
    .attr("fill", "none").attr("stroke", "#9a9a9a").attr("stroke-width", 1.6);

  // dotted axes
  const top = cy - 133;
  const bottom = p.row === 0 ? 297 : (p.row === 4 ? 1394 : cy + 137);
  g.append("line").attr("x1", c.cx).attr("x2", c.cx).attr("y1", top + 1).attr("y2", bottom)
    .attr("stroke", "#000").attr("stroke-width", 1.6).attr("stroke-dasharray", "1.6,2.2");
  g.append("line").attr("x1", c.ax0).attr("x2", c.ax0 + 286).attr("y1", cy).attr("y2", cy)
    .attr("stroke", "#000").attr("stroke-width", 1.6).attr("stroke-dasharray", "1.6,2.2");
  arrowUp(g, c.cx, top);
  arrowRight(g, c.ax0 + 287, cy);

  // estimated poles and their conjugates
  const pts = [];
  p.poles.forEach(([re, im]) => {
    pts.push([re, im]);
    if (im > 0) pts.push([re, -im]);
  });
  g.append("g").selectAll("circle").data(pts).join("circle")
    .attr("cx", d => x(d[0])).attr("cy", d => y(d[1])).attr("r", 3.2)
    .attr("fill", "none").attr("stroke", "#3a3ab8").attr("stroke-width", 0.95).attr("stroke-opacity", 0.8);

  // desired poles
  const tg = [];
  p.targets.forEach(([re, im]) => { tg.push([re, im]); tg.push([re, -im]); });
  const plus = g.append("g").attr("stroke", RED).attr("stroke-width", 1);
  tg.forEach(([re, im]) => {
    plus.append("line").attr("x1", x(re) - 2.5).attr("x2", x(re) + 2.5).attr("y1", y(im)).attr("y2", y(im));
    plus.append("line").attr("x1", x(re)).attr("x2", x(re)).attr("y1", y(im) - 2.5).attr("y2", y(im) + 2.5);
  });

  if (p.row === 0) {
    g.append("text").attr("x", c.cx + 8).attr("y", 36).attr("font-family", SERIF).attr("font-style", "italic")
      .attr("font-size", 19).text("Im(z)");
    g.append("text").attr("x", c.cx - 10).attr("y", 61).attr("font-family", SANS).attr("font-size", 19).text("1");
    g.append("text").attr("x", c.ax0 + 257).attr("y", 152).attr("font-family", SERIF).attr("font-style", "italic")
      .attr("font-size", 19).text("Re(z)");
    g.append("text").attr("x", c.ax0 + 259).attr("y", 184).attr("font-family", SANS).attr("font-size", 19).text("1");
  }
  return { x, y };
}

PANELS.forEach(p => { drawPoles(p); drawSpectrum(p); });

// pole names on the desired-pole diagram
(function () {
  const pos = [[222, 135, 220, 206], [180, 94, 178, 241], [78, 108, 76, 226]];
  POLE_NAMES.forEach((names, i) => {
    [0, 1].forEach(k => {
      const t = svg.append("text").attr("x", pos[i][2 * k]).attr("y", pos[i][2 * k + 1])
        .attr("font-family", SERIF).attr("font-style", "italic").attr("font-size", 27);
      t.append("tspan").text("p");
      t.append("tspan").attr("font-size", 17).attr("dy", 5).text(names[k]);
    });
  });
})();

// titles and captions
function caption(x, y, anchor, italic, plain, size) {
  const t = svg.append("text").attr("x", x).attr("y", y).attr("text-anchor", anchor)
    .attr("font-family", SERIF).attr("font-size", size || 26);
  t.append("tspan").attr("font-style", "italic").text(italic);
  if (plain) t.append("tspan").text(plain);
}
caption(460, 30, "middle", "Pôles et spectre désirés", null, 26);
caption(606, 287, "end", "Fréquence normalisée", null, 21);
caption(1127, 292, "middle", "Equations de YW", null, 26);
caption(622, 579, "end", "Méthode de Davila", " [DAV98]");
caption(617, 850, "end", "Méthode de Zheng", " [ZHE00]");
caption(619, 1117, "end", "Méthode de Hasan", " [HAS03a]");
caption(598, 1388, "end", "Equations MYW", " [FRI83]");
caption(1267, 581, "end", "Algorithme γ-LMS", " [TRE79]");
caption(1267, 845, "end", "Algorithme ρ-LMS", " [WU97]");
caption(1290, 1117, "end", "Méthode de Doblinger", " [DOB98]");
caption(1108, 1384, "middle", "Méthode proposée", null);

// dotted group frames
function dotted(x1, y1, x2, y2) {
  svg.append("line").attr("x1", x1).attr("y1", y1).attr("x2", x2).attr("y2", y2)
    .attr("stroke", "#000").attr("stroke-width", 2).attr("stroke-dasharray", "2,2.4");
}
dotted(10, 298, 636, 298);
dotted(10, 298, 10, 1394);
dotted(636, 298, 636, 712);
dotted(636, 940, 636, 1394);
dotted(665, 298, 1290, 298);
dotted(665, 298, 665, 1394);
dotted(1290, 298, 1290, 720);
dotted(1290, 955, 1290, 1394);

function sideLabel(x, y, txt) {
  svg.append("text").attr("transform", `translate(${x},${y}) rotate(90)`)
    .attr("text-anchor", "middle").attr("dominant-baseline", "central")
    .attr("font-family", SERIF).attr("font-size", 29).text(txt);
}
sideLabel(634, 826, "Off-line methods");
sideLabel(1292, 838, "Méthodes on-line");
</script>
</body>
</html>
